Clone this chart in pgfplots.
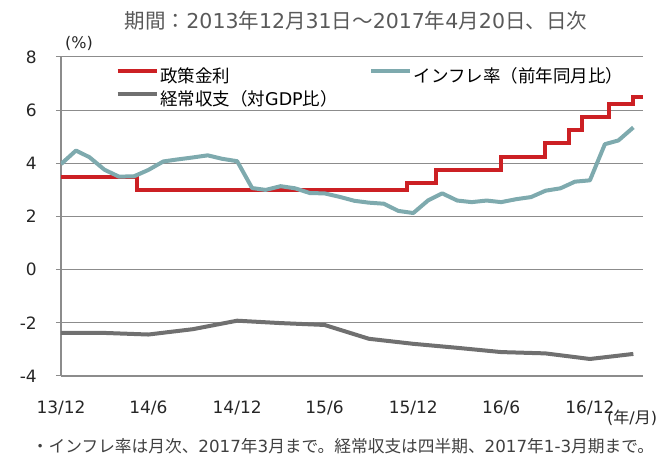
\documentclass[border=0pt]{standalone}
\usepackage{fontspec}
\setmainfont{DejaVu Sans}
\newfontfamily\jp{Noto Sans CJK JP}
\usepackage{pgfplots}
\pgfplotsset{compat=1.18}
\definecolor{policyred}{RGB}{204,32,36}
\definecolor{inflteal}{RGB}{126,170,174}
\definecolor{cagrey}{RGB}{112,112,112}
\definecolor{gridgrey}{RGB}{140,140,140}
\definecolor{titlegrey}{RGB}{89,89,89}
\definecolor{notegrey}{RGB}{64,64,64}
\begin{document}
\begin{tikzpicture}[x=1pt,y=1pt]
\begin{axis}[
  at={(61pt,81pt)}, anchor=south west,
  scale only axis, width=582pt, height=319pt,
  xmin=0, xmax=1206, ymin=-4, ymax=8,
  axis lines=left, axis line style={-, draw=gridgrey, line width=1.2pt},
  xtick={0,181,365,546,730,912,1096},
  xticklabels={13/12,14/6,14/12,15/6,15/12,16/6,16/12},
  ytick={-4,-2,0,2,4,6,8},
  yticklabels={-4,-2,0,2,4,6,8},
  ymajorgrids, major grid style={draw=gridgrey, line width=1pt},
  tick align=outside, major tick length=5pt,
  xtick style={draw=none}, ytick style={draw=gridgrey, line width=1pt},
  xticklabel style={font=\fontsize{17}{20}\selectfont, text=black!85, anchor=base, inner sep=0pt, yshift=-33pt},
  yticklabel style={font=\fontsize{17}{20}\selectfont, text=black!85, anchor=east, inner sep=0pt, xshift=-19pt},
  legend columns=2,
  legend cell align=left,
  legend image code/.code={\draw[#1] (0pt,5pt) -- (39pt,5pt);},
  legend style={draw=none, fill=none, inner sep=0pt, outer sep=0pt,
    at={(axis description cs:0.094,0.972)}, anchor=north west,
    font=\fontsize{17.5}{21}\selectfont, row sep=4pt,
    nodes={inner sep=1.5pt},
    /tikz/every even column/.append style={column sep=30pt}},
]
\addplot[const plot, draw=policyred, line width=4pt, line join=miter] coordinates {
 (0,3.5) (157,3.0) (716,3.25) (778,3.75) (912,4.25) (1003,4.75)
 (1052,5.25) (1080,5.75) (1136,6.25) (1185,6.5) (1206,6.5)};
\addlegendentry{{\jp 政策金利}}
\addplot[draw=inflteal, line width=4pt, line join=round] coordinates {
 (0,3.97) (31,4.48) (59,4.23) (90,3.76) (120,3.50) (151,3.51) (181,3.75)
 (212,4.07) (243,4.15) (273,4.22) (304,4.30) (334,4.17) (365,4.08)
 (396,3.07) (424,3.00) (455,3.14) (485,3.06) (516,2.88) (546,2.87)
 (577,2.74) (608,2.59) (638,2.52) (669,2.48) (699,2.21) (730,2.13)
 (761,2.61) (790,2.87) (821,2.60) (851,2.54) (882,2.60) (912,2.54)
 (943,2.65) (974,2.73) (1004,2.97) (1035,3.06) (1065,3.31) (1096,3.36)
 (1127,4.72) (1155,4.86) (1186,5.35)};
\addlegendentry{{\jp インフレ率（前年同月比）}}
\addplot[draw=cagrey, line width=4pt, line join=round] coordinates {
 (0,-2.38) (90,-2.38) (181,-2.44) (273,-2.24) (365,-1.92) (455,-2.01)
 (546,-2.08) (638,-2.60) (730,-2.79) (821,-2.94) (912,-3.10) (1004,-3.15)
 (1096,-3.36) (1186,-3.17)};
\addlegendentry{{\jp 経常収支（対}GDP{\jp 比）}}
\end{axis}
\node[font=\fontsize{20.5}{24}\selectfont, text=titlegrey] at (356,436.5)
  {{\jp 期間：}2013{\jp 年}12{\jp 月}31{\jp 日～}2017{\jp 年}4{\jp 月}20{\jp 日、日次}};
\node[font=\fontsize{16}{19}\selectfont, text=black!85] at (79,414) {(\%)};
\node[font=\fontsize{16}{19}\selectfont, text=black!85, anchor=west, inner sep=0pt] at (607,39) {({\jp 年}/{\jp 月})};
\node[font=\fontsize{16.7}{19}\selectfont, text=notegrey] at (343,10.5)
  {{\jp ・インフレ率は月次、}2017{\jp 年}3{\jp 月まで。経常収支は四半期、}2017{\jp 年}1-3{\jp 月期まで。}};
\pgfresetboundingbox
\path[use as bounding box] (0,0) rectangle (662,457);
\end{tikzpicture}
\end{document}
